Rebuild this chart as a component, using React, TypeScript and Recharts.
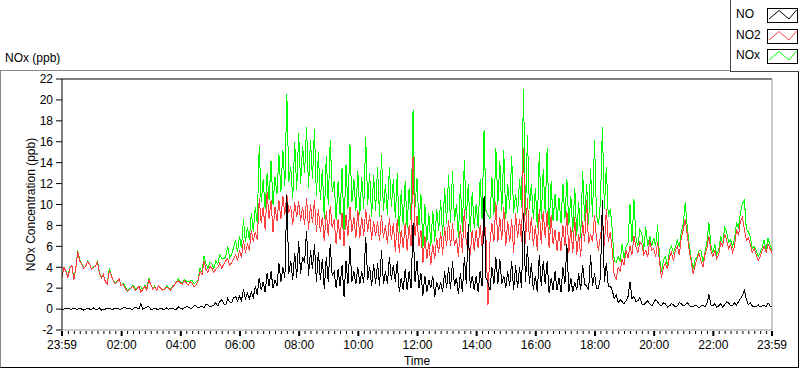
import React from 'react'
import { LineChart, Line, XAxis, YAxis, ReferenceLine, Legend } from 'recharts'

// readings every 4 min: night 23:59-05:55, day 05:59-18:39, evening 18:43-23:59
const STEP_MIN = 4
const NIGHT_START = -1
const DAY_START = 359
const EVENING_START = 1123

const noNight = [
  -0.1, 0.0, 0.1, 0.1, 0.0, 0.0, 0.1, 0.0, 0.0, 0.1,
  0.0, -0.1, 0.0, 0.1, 0.0, 0.0, 0.1, 0.0, 0.0, 0.1,
  -0.1, 0.0, 0.0, 0.1, 0.1, 0.0, 0.0, 0.1, 0.1, 0.0,
  0.0, 0.1, 0.2, 0.0, 0.1, 0.0, 0.0, 0.2, 0.1, 0.0,
  0.5, 0.0, 0.1, 0.2, 0.2, 0.0, 0.0, 0.1, 0.0, 0.0,
  0.1, 0.0, 0.0, 0.1, 0.0, 0.1, 0.1, 0.0, 0.0, 0.2,
  0.1, 0.0, 0.1, 0.2, 0.2, 0.1, 0.1, 0.3, 0.3, 0.1,
  0.2, 0.3, 0.1, 0.5, 0.4, 0.2, 0.3, 0.4, 0.6, 0.3,
  0.7, 0.9, 0.5, 0.4, 1.0, 0.7, 0.6, 1.1, 1.2, 0.8,
]
const no2Night = [
  3.1, 4.0, 3.6, 3.0, 3.9, 4.2, 2.8, 3.9, 5.5, 4.6,
  4.3, 3.9, 4.1, 4.5, 4.3, 3.8, 4.0, 4.1, 4.5, 3.4,
  3.0, 3.3, 2.6, 2.4, 3.7, 3.2, 2.7, 2.4, 2.6, 2.9,
  2.2, 2.4, 2.0, 1.7, 1.8, 2.0, 2.2, 1.8, 1.9, 2.2,
  1.6, 1.9, 2.2, 1.8, 2.8, 2.4, 1.9, 2.1, 1.8, 2.2,
  2.0, 1.8, 1.9, 2.1, 2.0, 1.8, 2.1, 2.3, 2.6, 2.7,
  2.5, 2.4, 2.7, 2.5, 2.3, 2.6, 2.5, 2.1, 2.3, 2.7,
  3.6, 3.3, 4.6, 3.8, 3.5, 4.1, 3.9, 3.5, 3.8, 4.0,
  4.4, 3.9, 4.3, 4.6, 4.8, 4.2, 4.4, 4.8, 5.2, 4.7,
]
const noxNight = [
  3.1, 4.0, 3.7, 3.1, 4.0, 4.2, 2.9, 3.9, 5.6, 4.7,
  4.4, 3.9, 4.1, 4.6, 4.3, 3.8, 4.1, 4.1, 4.6, 3.5,
  3.0, 3.3, 2.6, 2.5, 3.9, 3.3, 2.7, 2.5, 2.7, 2.9,
  2.2, 2.5, 2.2, 1.7, 1.9, 2.0, 2.3, 2.0, 2.0, 2.2,
  2.1, 1.9, 2.3, 2.0, 3.0, 2.4, 1.9, 2.2, 1.8, 2.2,
  2.1, 1.8, 1.9, 2.2, 2.0, 1.9, 2.2, 2.3, 2.6, 2.9,
  2.6, 2.4, 2.8, 2.7, 2.6, 2.7, 2.7, 2.4, 2.6, 2.8,
  3.9, 3.6, 5.1, 4.3, 3.9, 4.5, 4.3, 3.9, 4.6, 4.3,
  5.2, 4.8, 4.8, 5.0, 6.0, 4.9, 5.2, 5.9, 6.6, 5.5,
]

const noDay = [
  1.2, 0.8, 1.9, 1.0, 1.5, 1.0, 1.6, 1.1, 2.2, 1.4,
  3.0, 1.8, 2.6, 1.6, 3.4, 2.2, 3.6, 2.0, 2.8, 2.2,
  4.4, 2.6, 4.0, 3.0, 10.9, 3.4, 4.6, 2.8, 5.4, 3.0,
  6.5, 3.4, 5.0, 4.4, 7.5, 3.2, 5.6, 3.8, 6.2, 2.6,
  5.5, 2.8, 4.8, 1.9, 5.0, 2.6, 6.2, 3.2, 3.6, 2.0,
  3.8, 2.2, 4.2, 1.2, 4.6, 2.4, 6.0, 2.6, 3.6, 2.4,
  4.0, 2.4, 3.6, 2.5, 6.9, 2.8, 4.0, 2.2, 4.3, 2.4,
  4.4, 2.2, 5.6, 2.4, 3.6, 2.4, 5.0, 2.8, 4.2, 2.6,
  4.6, 1.6, 3.0, 1.8, 3.8, 1.8, 3.6, 2.0, 8.2, 2.6,
  4.6, 2.0, 3.4, 1.3, 3.2, 1.6, 2.8, 2.0, 3.2, 1.2,
  2.6, 1.8, 2.6, 1.6, 3.6, 2.0, 4.0, 1.9, 4.6, 2.2,
  3.0, 1.4, 3.4, 1.6, 5.0, 2.4, 8.1, 2.0, 3.2, 1.8,
  3.2, 1.6, 3.6, 2.2, 10.8, 3.0, 2.5, 1.8, 4.0, 2.4,
  5.0, 2.4, 4.8, 2.4, 3.2, 2.0, 3.6, 2.2, 4.6, 1.8,
  4.2, 2.0, 4.0, 2.0, 9.2, 2.6, 6.0, 2.4, 4.4, 1.8,
  3.2, 1.6, 5.2, 2.2, 4.6, 2.4, 4.6, 1.5, 3.0, 1.8,
  3.6, 1.8, 3.0, 1.6, 4.0, 2.4, 6.2, 1.6, 3.0, 1.6,
  2.6, 1.8, 3.4, 1.8, 4.2, 2.4, 2.2, 1.8, 5.2, 2.2,
  3.4, 2.0, 2.0, 3.0, 10.4, 2.6, 4.4, 2.2, 2.2, 1.8,
  1.0,
]
const no2Day = [
  5.6, 4.9, 6.6, 5.4, 6.2, 5.6, 7.6, 6.4, 7.4, 6.6,
  10.6, 8.2, 9.8, 7.6, 11.2, 8.6, 10.4, 7.4, 9.8, 8.4,
  10.4, 8.6, 10.8, 9.0, 11.0, 9.2, 9.8, 8.0, 10.2, 8.8,
  10.3, 8.4, 9.8, 8.0, 10.6, 7.6, 10.0, 8.2, 10.4, 7.4,
  9.6, 7.4, 8.8, 6.5, 9.4, 7.0, 9.9, 7.8, 8.6, 6.2,
  8.6, 6.6, 9.2, 6.0, 9.0, 7.0, 9.8, 7.4, 8.8, 6.8,
  9.5, 6.8, 8.8, 7.0, 9.6, 7.4, 9.0, 6.6, 8.4, 7.0,
  8.4, 6.5, 9.0, 6.8, 8.0, 6.2, 8.7, 6.6, 8.2, 5.5,
  8.6, 5.4, 7.6, 5.8, 8.2, 5.6, 8.0, 6.0, 14.6, 7.0,
  8.9, 6.0, 7.6, 4.4, 7.0, 4.8, 6.4, 4.2, 6.2, 4.8,
  6.8, 5.4, 7.4, 5.2, 7.8, 6.0, 8.5, 6.0, 8.2, 6.0,
  6.8, 5.0, 8.0, 5.4, 9.6, 6.2, 6.0, 5.2, 7.6, 5.6,
  7.6, 5.8, 8.0, 6.0, 9.0, 6.6, 0.4, 6.4, 8.2, 6.4,
  10.2, 6.4, 8.8, 6.6, 9.8, 6.0, 8.4, 6.4, 8.6, 5.4,
  9.2, 6.8, 8.6, 6.4, 15.4, 6.2, 10.6, 6.6, 8.8, 6.0,
  8.0, 5.6, 9.6, 6.2, 9.4, 6.8, 9.4, 5.8, 9.0, 6.2,
  7.6, 5.6, 7.4, 5.6, 8.0, 6.0, 9.4, 5.4, 7.8, 5.4,
  8.8, 5.2, 7.2, 5.0, 8.4, 6.4, 10.4, 6.2, 7.2, 6.4,
  9.0, 6.8, 5.6, 7.0, 8.2, 6.0, 9.6, 6.4, 7.4, 5.6,
  3.2,
]
const noxDay = [
  7.0, 5.8, 8.6, 6.4, 7.8, 6.6, 9.2, 7.4, 9.8, 8.2,
  15.6, 10.2, 12.4, 9.6, 13.0, 10.4, 14.2, 10.0, 12.6, 11.0,
  14.8, 11.2, 15.2, 11.8, 20.6, 12.2, 13.6, 10.6, 16.0, 11.4,
  16.8, 12.0, 15.6, 13.0, 17.4, 11.6, 16.2, 12.4, 17.2, 10.8,
  15.0, 10.4, 13.4, 8.6, 14.6, 10.0, 16.2, 11.2, 12.2, 8.5,
  12.2, 9.0, 13.5, 7.6, 13.8, 9.6, 15.8, 10.2, 12.4, 9.4,
  13.2, 9.0, 12.6, 9.6, 16.5, 10.0, 13.0, 8.8, 12.8, 9.4,
  13.6, 8.8, 14.8, 9.4, 12.0, 9.0, 13.6, 9.8, 12.4, 8.7,
  13.0, 7.3, 11.4, 8.0, 12.2, 7.8, 11.6, 8.4, 19.0, 9.8,
  12.5, 8.0, 11.0, 5.8, 10.0, 6.4, 9.2, 6.0, 9.4, 6.4,
  9.6, 7.5, 10.4, 7.0, 11.6, 8.2, 12.8, 8.2, 13.2, 8.4,
  10.0, 6.8, 12.0, 7.4, 14.3, 8.6, 12.0, 7.4, 11.2, 7.8,
  10.0, 7.8, 12.4, 8.6, 17.1, 9.4, 9.0, 8.6, 12.6, 9.0,
  15.4, 10.0, 14.2, 9.4, 15.2, 8.6, 12.0, 9.6, 14.6, 9.2,
  11.0, 9.2, 12.4, 9.8, 21.0, 9.0, 16.6, 9.6, 12.0, 8.6,
  11.6, 7.8, 15.0, 8.6, 13.4, 9.2, 15.4, 7.6, 12.2, 8.4,
  11.0, 8.4, 10.6, 8.2, 12.0, 8.6, 12.4, 8.0, 10.8, 7.4,
  11.6, 7.0, 10.2, 6.8, 13.2, 8.4, 12.0, 8.0, 13.4, 8.8,
  16.2, 9.0, 8.0, 10.2, 17.4, 9.6, 13.6, 8.8, 9.6, 7.6,
  4.6,
]

const noEvening = [
  1.4, 0.6, 0.9, 0.7, 0.5, 0.8, 1.2, 2.6, 1.0, 1.2,
  0.7, 0.8, 1.1, 0.5, 0.4, 0.6, 0.8, 0.5, 0.3, 0.6,
  0.9, 0.7, 0.4, 0.3, 0.6, 0.5, 0.2, 0.3, 0.5, 0.4,
  0.2, 0.3, 0.6, 0.5, 0.3, 0.4, 0.6, 0.4, 0.2, 0.2,
  0.4, 0.3, 0.1, 0.3, 0.4, 0.2, 0.5, 1.4, 0.4, 0.3,
  0.5, 0.2, 0.3, 0.5, 0.2, 0.4, 0.7, 0.6, 0.3, 0.3,
  0.6, 0.4, 0.7, 1.0, 1.3, 1.8, 0.9, 0.4, 0.6, 0.3,
  0.2, 0.2, 0.4, 0.2, 0.3, 0.4, 0.2, 0.6, 0.3, 0.2,
]
const no2Evening = [
  2.9, 4.0, 3.6, 4.8, 4.2, 5.6, 4.9, 6.0, 5.2, 7.0,
  6.0, 5.4, 6.4, 6.2, 5.2, 5.6, 5.0, 6.6, 5.6, 5.8,
  5.0, 6.4, 4.4, 3.0, 4.0, 4.4, 3.8, 5.0, 5.4, 4.6,
  5.6, 6.0, 5.2, 6.8, 7.6, 8.6, 7.2, 5.6, 4.6, 3.4,
  4.2, 4.8, 5.4, 4.6, 4.0, 5.2, 5.8, 7.0, 5.6, 5.0,
  5.6, 4.8, 5.2, 6.4, 6.0, 7.2, 6.6, 5.8, 6.2, 5.4,
  6.0, 7.6, 7.0, 8.4, 8.8, 7.6, 6.6, 6.8, 6.2, 5.4,
  5.8, 5.2, 4.6, 5.0, 5.6, 6.0, 5.4, 6.2, 5.8, 5.4,
]
const noxEvening = [
  4.5, 5.0, 4.6, 6.2, 4.8, 6.0, 6.3, 10.0, 6.4, 10.5,
  6.8, 6.0, 7.6, 7.2, 5.7, 7.8, 6.0, 7.0, 6.0, 6.8,
  6.0, 8.0, 4.9, 3.6, 4.7, 5.0, 4.1, 5.6, 6.0, 5.4,
  5.9, 6.6, 5.9, 7.4, 8.1, 10.2, 7.9, 6.2, 4.9, 3.8,
  4.7, 5.0, 5.6, 5.6, 4.5, 5.4, 6.4, 8.3, 6.1, 5.4,
  6.2, 5.2, 5.6, 7.0, 6.3, 7.8, 7.4, 6.4, 6.6, 6.0,
  6.7, 8.2, 7.8, 9.2, 10.1, 10.4, 7.6, 7.4, 6.9, 5.8,
  6.0, 5.6, 5.0, 5.4, 5.9, 6.6, 5.6, 6.8, 6.1, 5.7,
]

const majorTicks = [-1, 120, 240, 360, 480, 600, 720, 840, 960, 1080, 1200, 1320, 1439]
const majorLabels = ['23:59', '02:00', '04:00', '06:00', '08:00', '10:00', '12:00', '14:00', '16:00', '18:00', '20:00', '22:00', '23:59']
const yTicks = [-2, 0, 2, 4, 6, 8, 10, 12, 14, 16, 18, 20, 22]

const minorTicks: number[] = []
for (let m = 12; m < 1439; m += 12) {
  if (m % 120 !== 0) minorTicks.push(m)
}
const allTicks = [...majorTicks, ...minorTicks].sort((a, b) => a - b)

const segment = (start: number, a: number[], b: number[], c: number[]) =>
  a.map((v, i) => ({ t: start + i * STEP_MIN, NO: v, NO2: b[i], NOx: c[i] }))

const data = [
  ...segment(NIGHT_START, noNight, no2Night, noxNight),
  ...segment(DAY_START, noDay, no2Day, noxDay),
  ...segment(EVENING_START, noEvening, no2Evening, noxEvening),
]

const legendItems = [
  { name: 'NO', color: '#000000' },
  { name: 'NO2', color: '#ff4040' },
  { name: 'NOx', color: '#00ff00' },
]

const TimeTick = ({ x, y, payload }: any) => {
  const idx = majorTicks.indexOf(payload.value)
  const major = idx >= 0
  return (
    <g>
      <line
        x1={x}
        x2={x}
        y1={y + 1}
        y2={y + (major ? 6 : 4)}
        stroke="#000"
        strokeWidth={major ? 2 : 1}
      />
      {major && (
        <text x={x} y={y + 19} textAnchor="middle" fontSize={12} fill="#000">
          {majorLabels[idx]}
        </text>
      )}
    </g>
  )
}

const LegendBox = () => (
  <div
    style={{
      position: 'relative',
      width: 69,
      height: 72,
      boxSizing: 'border-box',
      borderLeft: '1px solid #444',
      borderBottom: '1px solid #444',
      background: '#fff',
      fontSize: 12,
    }}
  >
    {legendItems.map((item, i) => (
      <div key={item.name}>
        <div
          style={{
            position: 'absolute',
            left: 5,
            top: 7 + i * 20.5,
            lineHeight: '14px',
            color: '#000',
          }}
        >
          {item.name}
        </div>
        <svg
          width={31}
          height={15}
          style={{ position: 'absolute', left: 36, top: 8 + i * 20.5 }}
        >
          <rect x={0.5} y={0.5} width={30} height={14} fill="#fff" stroke="#000" />
          <polyline
            points="2,11 12,2.5 22,11 29.5,2"
            fill="none"
            stroke={item.color}
            strokeWidth={1}
          />
        </svg>
      </div>
    ))}
  </div>
)

export default function App() {
  return (
    <div
      style={{
        position: 'absolute',
        left: 0,
        top: 0,
        width: 800,
        height: 369,
        background: '#fff',
        fontFamily: '"Liberation Sans", Arial, sans-serif',
      }}
    >
      <div
        style={{
          position: 'absolute',
          left: 0,
          top: 70,
          width: 799,
          height: 298,
          boxSizing: 'border-box',
          borderLeft: '1px solid #888',
          borderTop: '1px solid #888',
          borderRight: '1px solid #000',
          borderBottom: '1px solid #000',
        }}
      />
      <div style={{ position: 'absolute', left: 5, top: 51, fontSize: 12, color: '#000' }}>
        NOx (ppb)
      </div>
      <div style={{ position: 'absolute', left: 0, top: 0 }}>
        <LineChart
          width={800}
          height={369}
          data={data}
          margin={{ top: 79, right: 28, bottom: 2, left: 0 }}
        >
          <XAxis
            dataKey="t"
            type="number"
            domain={[-1, 1439]}
            ticks={allTicks}
            interval={0}
            tick={<TimeTick />}
            tickLine={false}
            tickSize={0}
            tickMargin={0}
            height={37}
            axisLine={{ stroke: '#999' }}
            label={{ value: 'Time', position: 'insideBottom', offset: 2, fill: '#000', fontSize: 12 }}
          />
          <YAxis
            type="number"
            domain={[-2, 22]}
            ticks={yTicks}
            interval={0}
            width={62}
            tickSize={6}
            tickMargin={3}
            axisLine={{ stroke: '#000' }}
            tickLine={{ stroke: '#000' }}
            tick={{ fill: '#000', fontSize: 12 }}
            label={{
              value: 'NOx Concentration (ppb)',
              angle: -90,
              position: 'center',
              fill: '#000',
              fontSize: 12,
            }}
          />
          <ReferenceLine y={22} stroke="#000" />
          <ReferenceLine x={1439} stroke="#999" />
          <Legend
            layout="vertical"
            align="center"
            verticalAlign="middle"
            wrapperStyle={{ left: 730, top: 0, width: 69, height: 72 }}
            content={<LegendBox />}
          />
          <Line type="linear" dataKey="NOx" stroke="#00ff00" strokeWidth={1} dot={false} isAnimationActive={false} shapeRendering="crispEdges" />
          <Line type="linear" dataKey="NO2" stroke="#ff4040" strokeWidth={1} dot={false} isAnimationActive={false} shapeRendering="crispEdges" />
          <Line type="linear" dataKey="NO" stroke="#000000" strokeWidth={1} dot={false} isAnimationActive={false} shapeRendering="crispEdges" />
        </LineChart>
      </div>
    </div>
  )
}
